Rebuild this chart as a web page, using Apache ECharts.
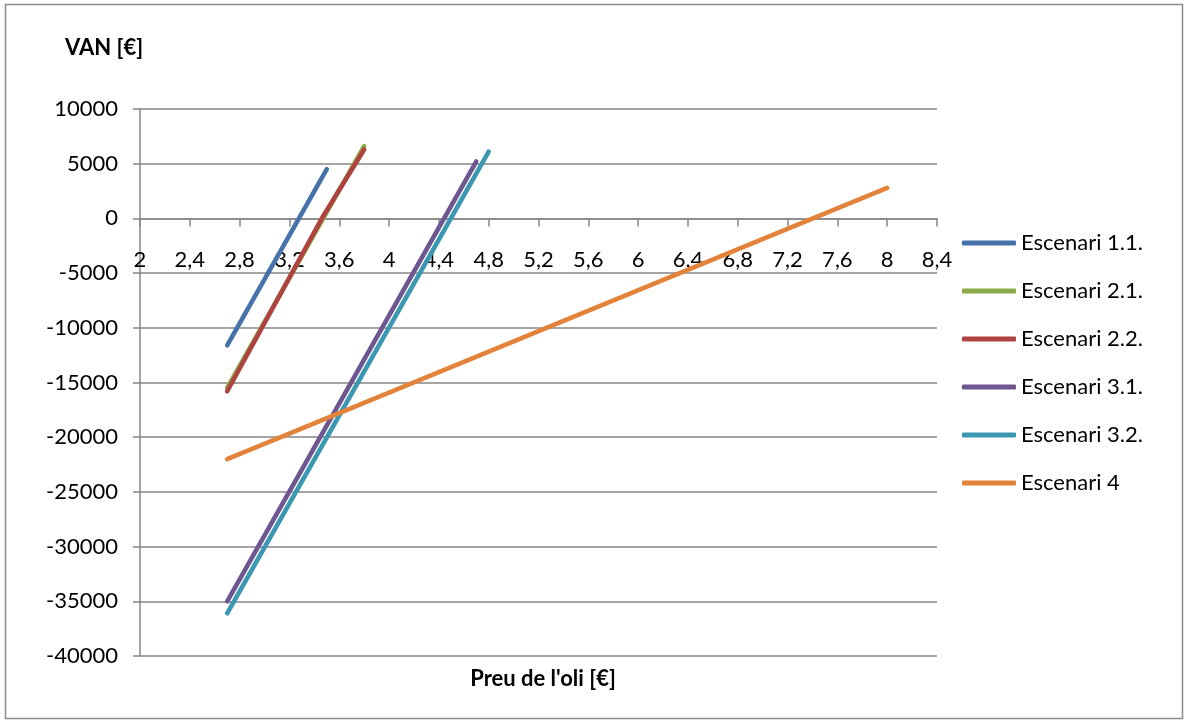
<!DOCTYPE html>
<html>
<head>
<meta charset="utf-8">
<script src="https://cdn.jsdelivr.net/npm/echarts@6/dist/echarts.min.js"></script>
<style>html,body{margin:0;padding:0;background:#fff;}#c{width:1184px;height:720px;}</style>
</head>
<body>
<div id="c"></div>
<script>
// Data
const seriesNames = ['Escenari 1.1.', 'Escenari 2.1.', 'Escenari 2.2.', 'Escenari 3.1.', 'Escenari 3.2.', 'Escenari 4'];
const s11x = [2.7, 3.5];        const s11y = [-11600, 4500];
const s21x = [2.7, 3.8];        const s21y = [-15500, 6600];
const s22x = [2.7, 3.47, 3.8];  const s22y = [-15800, 200, 6300];
const s31x = [2.7, 4.7];        const s31y = [-35000, 5200];
const s32x = [2.7, 4.8];        const s32y = [-36100, 6100];
const s4x  = [2.7, 8];          const s4y  = [-22000, 2800];
const xs = [s11x, s21x, s22x, s31x, s32x, s4x];
const ys = [s11y, s21y, s22y, s31y, s32y, s4y];
const colors = ['#4672AA', '#8AAA48', '#AD443F', '#6E5691', '#3C98B2', '#E3833A'];
const yTitle = 'VAN [€]';
const xTitle = "Preu de l'oli [€]";

const FONT = 'Lato';
const FS = 22;
const chart = echarts.init(document.getElementById('c'), null, {renderer: 'canvas'});
const series = seriesNames.map((n, i) => ({
  name: n,
  type: 'line',
  data: xs[i].map((x, j) => [x, ys[i][j]]),
  showSymbol: false,
  symbol: 'none',
  lineStyle: {width: 4.6, color: colors[i], cap: 'round', join: 'round'},
  itemStyle: {color: colors[i]},
  animation: false
}));

const GRID_TOP = 109, GRID_BOTTOM = 64, H = 720;
const gridH = H - GRID_TOP - GRID_BOTTOM;
const yMin = -40000, yMax = 10000;
// distance from grid bottom to the y = 0 line, via the axis extent
const zeroOffset = gridH * (0 - yMin) / (yMax - yMin);

chart.setOption({
  animation: false,
  backgroundColor: '#fff',
  textStyle: {fontFamily: FONT},
  grid: {left: 140, right: 247, top: GRID_TOP, bottom: GRID_BOTTOM, containLabel: false},
  title: [
    {text: yTitle, left: 60, top: 32, textStyle: {fontFamily: FONT, fontSize: FS, fontWeight: 'bold', color: '#000'}},
    {text: xTitle, left: 538, top: 663, textAlign: 'center', textStyle: {fontFamily: FONT, fontSize: FS, fontWeight: 'bold', color: '#000'}}
  ],
  legend: {
    orient: 'vertical',
    left: 957,
    top: 227,
    itemWidth: 54,
    itemHeight: 5,
    itemGap: 26,
    icon: 'roundRect',
    textStyle: {fontFamily: FONT, fontSize: FS, color: '#000', lineHeight: 22},
    data: seriesNames
  },
  xAxis: {
    type: 'value',
    position: 'bottom',
    offset: -zeroOffset,
    min: 2, max: 8.4, interval: 0.4,
    axisLine: {show: true, onZero: false, lineStyle: {color: '#868686', width: 1.5}},
    axisTick: {show: true, length: 8, lineStyle: {color: '#868686', width: 1.5}},
    axisLabel: {show: true, margin: 31, fontSize: FS, color: '#000', fontFamily: FONT,
      formatter: v => String(+v.toFixed(1)).replace('.', ',')},
    splitLine: {show: false}
  },
  yAxis: {
    type: 'value',
    min: yMin, max: yMax, interval: 5000,
    axisLine: {show: true, lineStyle: {color: '#868686', width: 1.5}},
    axisTick: {show: true, length: 7, lineStyle: {color: '#868686', width: 1.5}},
    axisLabel: {margin: 22, fontSize: FS, color: '#000', fontFamily: FONT, formatter: v => String(v)},
    splitLine: {show: true, lineStyle: {color: '#868686', width: 1.5}}
  },
  graphic: [{
    type: 'rect', silent: true, z: -1,
    shape: {x: 5.5, y: 4.5, width: 1177, height: 714},
    style: {fill: null, stroke: '#8c8c8c', lineWidth: 1.5}
  }],
  series: series
});
</script>
</body>
</html>
